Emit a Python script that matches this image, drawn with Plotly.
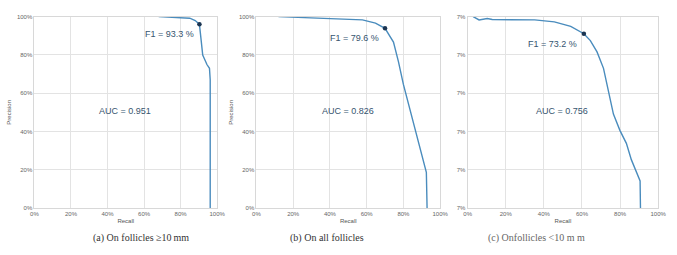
import plotly.graph_objects as go

W, H = 677, 255

# Panel (a): follicles >= 10 mm
recall_a = [0.68, 0.75, 0.80, 0.85, 0.88, 0.903, 0.912, 0.921, 0.935, 0.944, 0.958, 0.962, 0.962]
prec_a = [1.0, 0.998, 0.996, 0.992, 0.98, 0.96, 0.88, 0.80, 0.77, 0.75, 0.73, 0.67, 0.0]
f1_a = (0.903, 0.96)

# Panel (b): all follicles
recall_b = [0.12, 0.27, 0.42, 0.577, 0.648, 0.70, 0.746, 0.773, 0.80, 0.827, 0.854, 0.88, 0.907, 0.925, 0.929]
prec_b = [1.0, 0.995, 0.99, 0.983, 0.966, 0.939, 0.867, 0.765, 0.646, 0.544, 0.442, 0.357, 0.255, 0.187, 0.0]
f1_b = (0.70, 0.939)

# Panel (c): follicles < 10 mm
recall_c = [0.029, 0.06, 0.103, 0.129, 0.352, 0.455, 0.541, 0.61, 0.644, 0.679, 0.713, 0.739, 0.765,
            0.799, 0.833, 0.859, 0.885, 0.905, 0.907]
prec_c = [1.0, 0.983, 0.99, 0.985, 0.983, 0.973, 0.949, 0.911, 0.875, 0.816, 0.73, 0.611, 0.491,
          0.406, 0.338, 0.253, 0.184, 0.142, 0.0]
f1_c = (0.61, 0.911)

f1_labels = ["F1 = 93.3 %", "F1 = 79.6 %", "F1 = 73.2 %"]
auc_labels = ["AUC = 0.951", "AUC = 0.826", "AUC = 0.756"]
captions = ["(a) On follicles \u226510\u2009mm", "(b) On all follicles", "(c) Onfollicles <10 m m"]
tick_vals = [0, 0.2, 0.4, 0.6, 0.8, 1.0]
tick_text = ["0%", "20%", "40%", "60%", "80%", "100%"]
tick_text_c_y = ["7%"] * 6

# pixel boxes of the plot areas (left, right)
xpix = [(31, 217), (257, 444), (472, 666)]
ytop, ybot = 14, 210

# label positions (pixels, centers)
f1_pos = [(168, 32), (357, 36), (558, 42)]
auc_pos = [(123, 111), (350, 111), (568, 111)]
cap_x = [139, 329, 542]

LINE = "#4a8cbd"
DOT = "#1b3552"
TXT = "#36546f"
GRID = "#e3e3e3"

fig = go.Figure()
series = [(recall_a, prec_a, f1_a), (recall_b, prec_b, f1_b), (recall_c, prec_c, f1_c)]
for i, (rx, py, f1) in enumerate(series):
    xa = "x" if i == 0 else f"x{i+1}"
    ya = "y" if i == 0 else f"y{i+1}"
    fig.add_trace(go.Scatter(x=rx, y=py, mode="lines", line=dict(color=LINE, width=1.4),
                             xaxis=xa, yaxis=ya, showlegend=False, hoverinfo="skip"))
    fig.add_trace(go.Scatter(x=[f1[0]], y=[f1[1]], mode="markers",
                             marker=dict(color=DOT, size=4.5), xaxis=xa, yaxis=ya,
                             showlegend=False, hoverinfo="skip"))

layout = dict(width=W, height=H, margin=dict(l=0, r=0, t=0, b=0),
              paper_bgcolor="white", plot_bgcolor="white", showlegend=False)
axis_common = dict(range=[0, 1], tickvals=tick_vals, showgrid=True, gridcolor=GRID, gridwidth=1,
                   zeroline=False, showline=True, linecolor="#d8d8d8", linewidth=1, mirror=True,
                   ticks="", tickfont=dict(family="Liberation Sans, Arial", size=6, color="#666"),
                   fixedrange=True)
for i in range(3):
    suffix = "" if i == 0 else str(i + 1)
    l, r = xpix[i]
    layout["xaxis" + suffix] = dict(axis_common, domain=[l / W, r / W], ticktext=tick_text,
                                    anchor="y" + suffix,
                                    title=dict(text="Recall", standoff=2,
                                               font=dict(family="Liberation Sans, Arial", size=6, color="#555")))
    ytxt = tick_text_c_y if i == 2 else tick_text
    layout["yaxis" + suffix] = dict(axis_common, domain=[1 - ybot / H, 1 - ytop / H], ticktext=ytxt,
                                    anchor="x" + suffix,
                                    title=dict(text="Precision" if i < 2 else "", standoff=4,
                                               font=dict(family="Liberation Sans, Arial", size=6, color="#555")))
fig.update_layout(**layout)

ann = []
for i in range(3):
    ann.append(dict(x=f1_pos[i][0] / W, y=1 - f1_pos[i][1] / H, xref="paper", yref="paper",
                    xanchor="center", yanchor="middle",
                    text=f1_labels[i], showarrow=False,
                    font=dict(family="Liberation Sans, Arial", size=9, color=TXT)))
    ann.append(dict(x=auc_pos[i][0] / W, y=1 - auc_pos[i][1] / H, xref="paper", yref="paper",
                    xanchor="center", yanchor="middle",
                    text=auc_labels[i], showarrow=False,
                    font=dict(family="Liberation Sans, Arial", size=9, color=TXT)))
    ann.append(dict(x=cap_x[i] / W, y=1 - 241 / H, xref="paper", yref="paper",
                    xanchor="center", yanchor="middle",
                    text=captions[i], showarrow=False,
                    font=dict(family="Liberation Serif, DejaVu Serif, serif", size=10,
                              color="#333" if i < 2 else "#666")))
fig.update_layout(annotations=ann)

fig.write_html("out.html")
